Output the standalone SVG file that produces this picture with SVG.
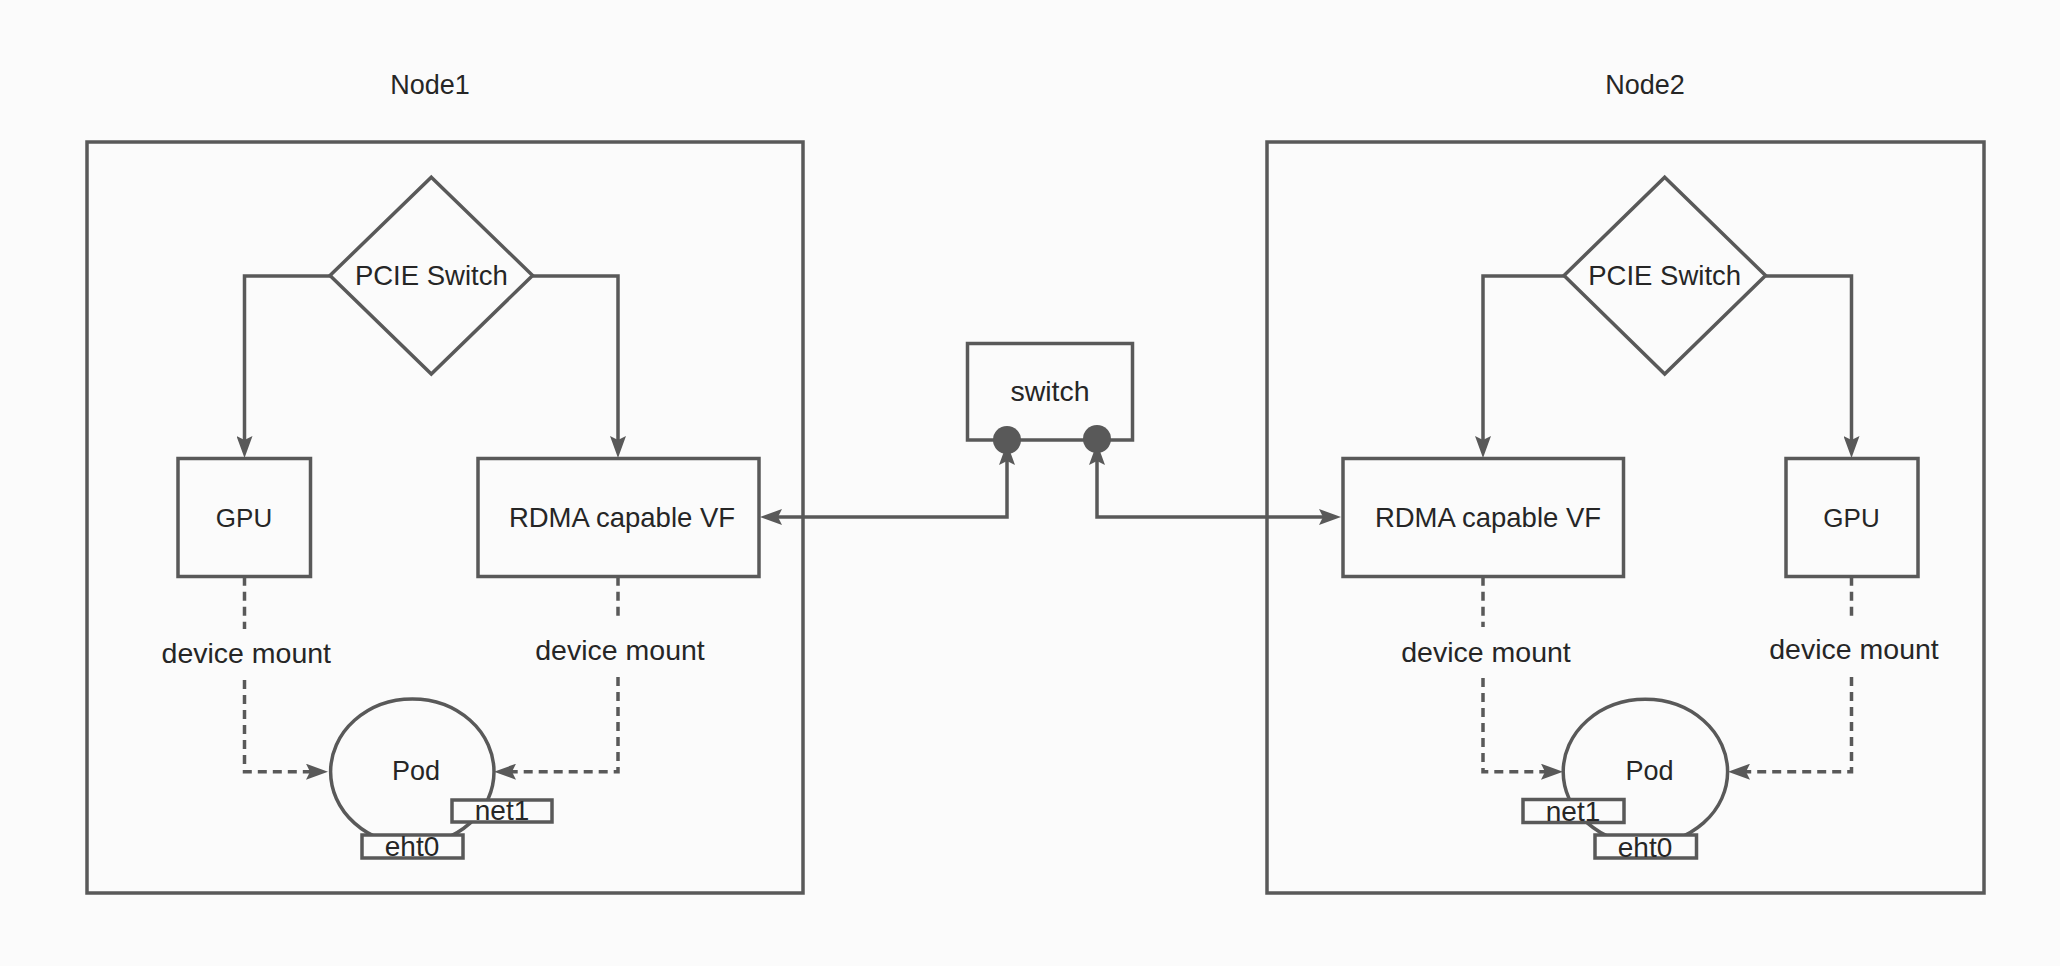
<svg xmlns="http://www.w3.org/2000/svg" width="2060" height="966" viewBox="0 0 2060 966">
<style>
.bx{fill:none;stroke:#595959;stroke-width:3.5}
.wb{fill:#fbfbfb;stroke:#595959;stroke-width:3.5}
.ln{fill:none;stroke:#595959;stroke-width:3.5}
.dl{fill:none;stroke:#595959;stroke-width:3.5;stroke-dasharray:9 6}
.t{font-family:"Liberation Sans",Arial,sans-serif;fill:#262626;text-anchor:middle}
.s27{font-size:27px}.s275{font-size:27.5px}.s26{font-size:26px}.s285{font-size:28.5px}.s28{font-size:28px}
</style>
<defs>
<marker id="arr" viewBox="0 0 22 16" refX="14" refY="8" markerWidth="22" markerHeight="16" markerUnits="userSpaceOnUse" orient="auto-start-reverse">
<path d="M0,0 L22,8 L0,16 L4,8 Z" fill="#595959"/>
</marker>
</defs>
<rect x="0" y="0" width="2060" height="966" fill="#fbfbfb"/>

<g id="node1">
<rect class="bx" x="87" y="142" width="716" height="751"/>
<text class="t s27" x="430" y="94">Node1</text>
</g>
<g id="node2">
<rect class="bx" x="1267" y="142" width="717" height="751"/>
<text class="t s27" x="1645" y="94">Node2</text>
</g>

<g id="pcie1">
<polygon class="bx" points="431.3,177.3 532.6,275.5 431.3,374 330,275.5"/>
<text class="t s275" x="431.3" y="285">PCIE Switch</text>
</g>
<g id="pcie2">
<polygon class="bx" points="1664.7,177.3 1765.6,275.5 1664.7,374 1564,275.5"/>
<text class="t s275" x="1664.7" y="285">PCIE Switch</text>
</g>

<g id="gpu1">
<rect class="bx" x="178" y="458.5" width="132.5" height="118"/>
<text class="t s26" x="244" y="526.7">GPU</text>
</g>
<g id="rdma1">
<rect class="bx" x="478" y="458.5" width="281" height="118"/>
<text class="t s275" x="622" y="526.7">RDMA capable VF</text>
</g>
<g id="rdma2">
<rect class="bx" x="1343" y="458.5" width="280.5" height="118"/>
<text class="t s275" x="1488" y="526.7">RDMA capable VF</text>
</g>
<g id="gpu2">
<rect class="bx" x="1786" y="458.5" width="132" height="118"/>
<text class="t s26" x="1851.5" y="526.7">GPU</text>
</g>

<g id="connectors">
<path class="ln" d="M330,276 L244.5,276 L244.5,450" marker-end="url(#arr)"/>
<path class="ln" d="M532.6,276 L618,276 L618,450" marker-end="url(#arr)"/>
<path class="ln" d="M1564,276 L1483,276 L1483,450" marker-end="url(#arr)"/>
<path class="ln" d="M1765.6,276 L1851.5,276 L1851.5,450" marker-end="url(#arr)"/>
<path class="dl" d="M244.5,576.7 L244.5,629"/>
<path class="dl" d="M244.5,680 L244.5,771.7 L320,771.7" marker-end="url(#arr)"/>
<path class="dl" d="M618,576.7 L618,620"/>
<path class="dl" d="M618,677 L618,771.7 L502,771.7" marker-end="url(#arr)"/>
<path class="dl" d="M1483,576.7 L1483,627"/>
<path class="dl" d="M1483,678 L1483,771.7 L1555,771.7" marker-end="url(#arr)"/>
<path class="dl" d="M1851.5,576.7 L1851.5,618"/>
<path class="dl" d="M1851.5,677 L1851.5,771.7 L1736,771.7" marker-end="url(#arr)"/>
<path class="ln" d="M1007,451 L1007,517 L768,517" marker-start="url(#arr)" marker-end="url(#arr)"/>
<path class="ln" d="M1097,451 L1097,517 L1333,517" marker-start="url(#arr)" marker-end="url(#arr)"/>
</g>

<g id="switch">
<rect class="bx" x="967.5" y="343.5" width="165" height="96.5"/>
<text class="t s285" x="1050" y="401">switch</text>
<circle cx="1007" cy="440" r="14" fill="#595959"/>
<circle cx="1097" cy="439" r="14" fill="#595959"/>
</g>

<g id="labels">
<text class="t s285" x="246.3" y="663">device mount</text>
<text class="t s285" x="620" y="659.5">device mount</text>
<text class="t s285" x="1486" y="661.5">device mount</text>
<text class="t s285" x="1854" y="659">device mount</text>
</g>

<g id="pod1">
<ellipse class="ln" cx="412.3" cy="771.7" rx="81.7" ry="72.7"/>
<text class="t s27" x="416" y="780">Pod</text>
</g>
<g id="net1-1">
<rect class="wb" x="452" y="800" width="100" height="22"/>
<text class="t s28" x="502" y="820">net1</text>
</g>
<g id="eht0-1">
<rect class="wb" x="362" y="835" width="101" height="23"/>
<text class="t s28" x="412" y="856">eht0</text>
</g>

<g id="pod2">
<ellipse class="ln" cx="1645.4" cy="771.7" rx="82.2" ry="72.4"/>
<text class="t s27" x="1649.5" y="780">Pod</text>
</g>
<g id="net1-2">
<rect class="wb" x="1523" y="799.5" width="101" height="23"/>
<text class="t s28" x="1573" y="820.5">net1</text>
</g>
<g id="eht0-2">
<rect class="wb" x="1595" y="835" width="101.5" height="23"/>
<text class="t s28" x="1645" y="856.5">eht0</text>
</g>
</svg>
